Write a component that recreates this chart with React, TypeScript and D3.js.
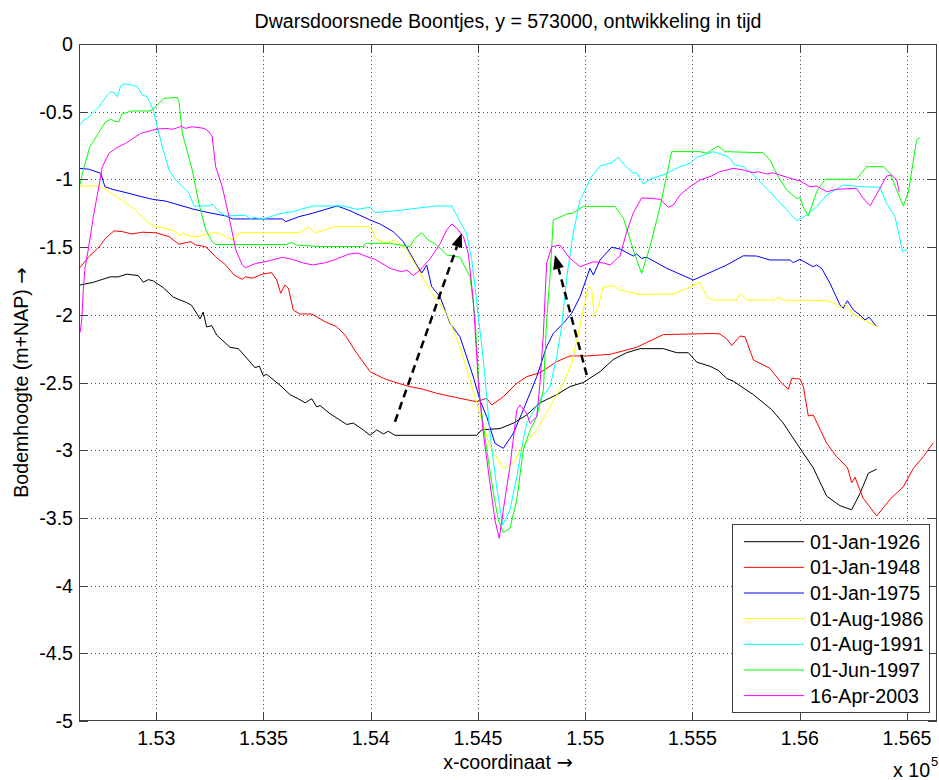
import React from 'react';
import * as d3 from 'd3';

const W = 939;
const H = 780;
const PL = 79, PR = 937, PT = 44, PB = 721;

const xDomain: [number, number] = [152640, 156640];
const yDomain: [number, number] = [-5, 0];

const xTicks = [153000, 153500, 154000, 154500, 155000, 155500, 156000, 156500];
const xTickLabels = ['1.53', '1.535', '1.54', '1.545', '1.55', '1.555', '1.56', '1.565'];
const yTicks = [0, -0.5, -1, -1.5, -2, -2.5, -3, -3.5, -4, -4.5, -5];
const yTickLabels = ['0', '-0.5', '-1', '-1.5', '-2', '-2.5', '-3', '-3.5', '-4', '-4.5', '-5'];

const seriesNames = ['01-Jan-1926', '01-Jan-1948', '01-Jan-1975', '01-Aug-1986', '01-Aug-1991', '01-Jun-1997', '16-Apr-2003'];
const seriesColors = ['#000000', '#ff0000', '#0000ff', '#ffff00', '#00ffff', '#00ff00', '#ff00ff'];

const s1926: [number, number][] = [
  [152645, -1.78], [152707, -1.76], [152785, -1.72], [152823, -1.72], [152862, -1.70], [152916, -1.71], [152940, -1.76], [152963, -1.74], [152987, -1.75], [153033, -1.80], [153080, -1.87], [153142, -1.91], [153165, -1.93], [153204, -2.03], [153219, -1.98], [153235, -2.09], [153259, -2.08], [153282, -2.15], [153344, -2.24], [153383, -2.25], [153422, -2.32], [153460, -2.39], [153481, -2.38], [153499, -2.45], [153515, -2.44], [153577, -2.52], [153624, -2.59], [153662, -2.62], [153694, -2.65], [153725, -2.62], [153748, -2.68], [153764, -2.67], [153810, -2.73], [153888, -2.81], [153919, -2.80], [153965, -2.85], [153997, -2.89], [154028, -2.85], [154059, -2.88], [154082, -2.86], [154113, -2.89], [154494, -2.89], [154517, -2.85], [154603, -2.84], [154665, -2.80], [154727, -2.74], [154789, -2.65], [154867, -2.59], [154929, -2.53], [154991, -2.50], [155069, -2.42], [155131, -2.33], [155193, -2.28], [155256, -2.25], [155364, -2.25], [155427, -2.28], [155481, -2.28], [155520, -2.35], [155582, -2.38], [155620, -2.41], [155660, -2.47], [155690, -2.49], [155784, -2.59], [155869, -2.70], [155923, -2.80], [155986, -2.95], [156063, -3.13], [156126, -3.34], [156188, -3.41], [156242, -3.44], [156281, -3.32], [156320, -3.17], [156359, -3.14],
];

const s1948: [number, number][] = [
  [152640, -1.66], [152687, -1.57], [152733, -1.50], [152764, -1.435], [152803, -1.38], [152842, -1.386], [152888, -1.403], [152935, -1.39], [152998, -1.394], [153060, -1.423], [153106, -1.479], [153161, -1.46], [153184, -1.484], [153231, -1.497], [153277, -1.571], [153324, -1.632], [153363, -1.706], [153401, -1.738], [153417, -1.719], [153448, -1.73], [153495, -1.699], [153538, -1.689], [153562, -1.743], [153580, -1.841], [153600, -1.78], [153616, -1.804], [153639, -1.965], [153670, -1.994], [153725, -1.994], [153787, -2.051], [153841, -2.088], [153880, -2.149], [153935, -2.284], [153997, -2.42], [154059, -2.469], [154105, -2.494], [154183, -2.531], [154245, -2.55], [154308, -2.58], [154416, -2.617], [154494, -2.642], [154541, -2.617], [154564, -2.666], [154618, -2.605], [154681, -2.506], [154727, -2.457], [154789, -2.428], [154867, -2.346], [154929, -2.304], [155007, -2.304], [155116, -2.292], [155240, -2.24], [155364, -2.146], [155597, -2.138], [155628, -2.142], [155660, -2.179], [155683, -2.227], [155722, -2.157], [155745, -2.162], [155784, -2.334], [155861, -2.395], [155916, -2.506], [155947, -2.55], [155963, -2.469], [156001, -2.474], [156017, -2.531], [156040, -2.747], [156063, -2.74], [156126, -2.949], [156172, -3.048], [156219, -3.122], [156226, -3.146], [156242, -3.24], [156258, -3.20], [156296, -3.355], [156359, -3.486], [156421, -3.363], [156483, -3.27], [156530, -3.134], [156576, -3.048], [156623, -2.945],
];

const s1975: [number, number][] = [
  [152640, -0.918], [152687, -0.925], [152741, -0.955], [152761, -1.054], [152795, -1.073], [152873, -1.103], [152920, -1.123], [152982, -1.147], [153044, -1.16], [153106, -1.189], [153176, -1.221], [153246, -1.246], [153324, -1.27], [153355, -1.292], [153588, -1.292], [153604, -1.312], [153666, -1.275], [153728, -1.25], [153790, -1.221], [153844, -1.196], [153903, -1.231], [153997, -1.30], [154043, -1.329], [154105, -1.386], [154152, -1.46], [154183, -1.544], [154214, -1.632], [154238, -1.691], [154261, -1.632], [154284, -1.792], [154323, -1.866], [154370, -2.063], [154416, -2.162], [154478, -2.457], [154509, -2.629], [154541, -2.753], [154579, -2.949], [154618, -2.986], [154665, -2.875], [154711, -2.703], [154774, -2.457], [154820, -2.236], [154851, -2.137], [154898, -2.063], [154937, -1.989], [154976, -1.866], [155022, -1.657], [155038, -1.706], [155069, -1.595], [155123, -1.501], [155162, -1.514], [155224, -1.566], [155240, -1.551], [155263, -1.583], [155287, -1.575], [155380, -1.657], [155504, -1.743], [155566, -1.699], [155660, -1.632], [155737, -1.564], [155799, -1.566], [155861, -1.595], [155955, -1.595], [155970, -1.615], [156001, -1.59], [156063, -1.645], [156079, -1.632], [156102, -1.657], [156141, -1.767], [156188, -1.928], [156203, -1.952], [156222, -1.896], [156250, -1.965], [156281, -2.001], [156304, -2.038], [156324, -2.018], [156359, -2.088],
];

const s1986: [number, number][] = [
  [152640, -1.049], [152733, -1.049], [152764, -1.073], [152826, -1.14], [152904, -1.226], [152966, -1.324], [152998, -1.349], [153044, -1.361], [153091, -1.386], [153106, -1.418], [153122, -1.398], [153153, -1.418], [153199, -1.423], [153254, -1.394], [153293, -1.398], [153339, -1.435], [153363, -1.448], [153386, -1.394], [153666, -1.394], [153712, -1.354], [153728, -1.374], [153743, -1.394], [153837, -1.348], [153992, -1.348], [154007, -1.374], [154023, -1.442], [154074, -1.468], [154113, -1.448], [154168, -1.521], [154214, -1.645], [154276, -1.817], [154354, -1.989], [154416, -2.236], [154463, -2.482], [154509, -2.727], [154556, -2.974], [154618, -3.134], [154665, -3.097], [154711, -2.962], [154774, -2.851], [154836, -2.679], [154898, -2.506], [154937, -2.358], [154968, -2.137], [154991, -1.965], [155014, -1.797], [155030, -1.804], [155041, -2.009], [155061, -1.94], [155082, -1.797], [155131, -1.785], [155162, -1.817], [155256, -1.849], [155411, -1.846], [155473, -1.804], [155535, -1.761], [155566, -1.866], [155597, -1.891], [155706, -1.891], [155722, -1.841], [155753, -1.891], [155885, -1.891], [155900, -1.871], [155923, -1.891], [156126, -1.896], [156172, -1.92], [156188, -1.952], [156211, -1.92], [156242, -1.985], [156296, -2.038], [156359, -2.088],
];

const s1991: [number, number][] = [
  [152640, -0.606], [152663, -0.561], [152679, -0.549], [152733, -0.463], [152772, -0.377], [152788, -0.352], [152803, -0.36], [152819, -0.389], [152834, -0.31], [152850, -0.295], [152888, -0.303], [152912, -0.315], [152935, -0.377], [152958, -0.389], [152986, -0.487], [153028, -0.758], [153060, -0.931], [153091, -1.004], [153153, -1.103], [153176, -1.196], [153246, -1.196], [153261, -1.182], [153293, -1.239], [153324, -1.27], [153417, -1.265], [153440, -1.292], [153456, -1.278], [153479, -1.29], [153510, -1.287], [153577, -1.252], [153634, -1.239], [153731, -1.196], [153871, -1.196], [153935, -1.221], [153997, -1.206], [154020, -1.246], [154121, -1.231], [154214, -1.213], [154308, -1.196], [154378, -1.196], [154416, -1.312], [154447, -1.398], [154471, -1.595], [154486, -1.792], [154502, -2.014], [154525, -2.334], [154556, -2.875], [154587, -3.27], [154615, -3.553], [154649, -3.442], [154681, -3.196], [154711, -2.925], [154727, -2.801], [154789, -2.629], [154836, -2.531], [154867, -2.309], [154890, -2.088], [154914, -1.719], [154944, -1.398], [154976, -1.152], [154999, -1.078], [155030, -0.98], [155069, -0.901], [155123, -0.877], [155154, -0.837], [155178, -0.886], [155224, -0.955], [155240, -0.95], [155271, -1.034], [155302, -0.997], [155364, -0.967], [155442, -0.906], [155488, -0.881], [155520, -0.837], [155597, -0.795], [155667, -0.832], [155698, -0.894], [155737, -0.906], [155784, -0.967], [155861, -1.091], [155986, -1.305], [156033, -1.263], [156079, -1.202], [156126, -1.115], [156203, -1.041], [156281, -1.054], [156374, -1.058], [156405, -1.177], [156444, -1.275], [156480, -1.534], [156499, -1.516],
];

const s1997: [number, number][] = [
  [152640, -1.064], [152660, -0.931], [152691, -0.758], [152730, -0.66], [152764, -0.574], [152788, -0.556], [152811, -0.572], [152826, -0.574], [152842, -0.512], [152858, -0.51], [152881, -0.495], [152966, -0.495], [152982, -0.487], [153036, -0.401], [153098, -0.394], [153106, -0.426], [153122, -0.66], [153168, -0.931], [153199, -1.177], [153231, -1.374], [153261, -1.46], [153277, -1.481], [153604, -1.481], [153632, -1.466], [153655, -1.485], [153759, -1.496], [153961, -1.496], [153981, -1.472], [154090, -1.472], [154183, -1.497], [154206, -1.435], [154238, -1.394], [154268, -1.448], [154308, -1.485], [154354, -1.558], [154416, -1.575], [154463, -1.719], [154486, -2.014], [154509, -2.629], [154541, -2.999], [154572, -3.318], [154595, -3.516], [154618, -3.609], [154649, -3.577], [154681, -3.368], [154711, -2.999], [154743, -2.851], [154774, -2.753], [154805, -2.555], [154820, -2.038], [154836, -1.719], [154851, -1.30], [154914, -1.256], [154944, -1.248], [154991, -1.199], [155139, -1.199], [155178, -1.287], [155224, -1.521], [155263, -1.694], [155302, -1.497], [155349, -1.202], [155403, -0.795], [155535, -0.795], [155566, -0.807], [155620, -0.753], [155652, -0.795], [155830, -0.803], [155861, -0.857], [155900, -0.98], [155939, -1.078], [155986, -1.14], [156001, -1.135], [156017, -1.206], [156040, -1.27], [156079, -1.091], [156118, -0.999], [156265, -0.999], [156312, -0.906], [156390, -0.906], [156421, -0.955], [156452, -1.078], [156483, -1.196], [156507, -1.091], [156545, -0.709], [156561, -0.691],
];

const s2003: [number, number][] = [
  [152645, -2.132], [152653, -2.038], [152660, -1.817], [152668, -1.654], [152683, -1.521], [152707, -1.275], [152738, -1.004], [152749, -0.906], [152780, -0.807], [152811, -0.77], [152858, -0.733], [152904, -0.685], [152928, -0.66], [152966, -0.643], [152998, -0.63], [153044, -0.623], [153075, -0.63], [153106, -0.615], [153114, -0.606], [153137, -0.623], [153168, -0.611], [153223, -0.623], [153246, -0.648], [153261, -0.685], [153277, -0.906], [153308, -1.054], [153339, -1.275], [153371, -1.521], [153401, -1.632], [153417, -1.652], [153464, -1.62], [153510, -1.608], [153588, -1.575], [153634, -1.59], [153681, -1.615], [153728, -1.632], [153790, -1.615], [153837, -1.59], [153899, -1.551], [153942, -1.544], [153989, -1.575], [154020, -1.59], [154090, -1.657], [154144, -1.682], [154168, -1.669], [154199, -1.71], [154230, -1.669], [154276, -1.588], [154323, -1.477], [154354, -1.374], [154378, -1.329], [154401, -1.361], [154432, -1.423], [154455, -1.546], [154478, -1.891], [154502, -2.506], [154525, -2.875], [154556, -3.244], [154579, -3.516], [154599, -3.651], [154618, -3.442], [154649, -3.122], [154681, -2.703], [154696, -2.666], [154727, -2.727], [154743, -2.801], [154774, -2.753], [154789, -2.506], [154805, -2.137], [154820, -1.62], [154844, -1.497], [154882, -1.485], [154929, -1.583], [154976, -1.645], [155038, -1.608], [155084, -1.617], [155116, -1.632], [155162, -1.566], [155193, -1.389], [155224, -1.248], [155263, -1.137], [155302, -1.14], [155349, -1.147], [155387, -1.206], [155411, -1.189], [155442, -1.115], [155488, -1.054], [155535, -1.004], [155582, -0.98], [155628, -0.943], [155690, -0.918], [155737, -0.931], [155784, -0.951], [155807, -0.943], [155846, -0.96], [155877, -0.951], [155908, -0.968], [155970, -0.999], [156001, -1.01], [156048, -1.054], [156079, -1.049], [156126, -1.091], [156172, -1.073], [156265, -1.066], [156296, -1.14], [156328, -1.196], [156374, -1.066], [156405, -0.975], [156429, -0.968], [156452, -1.004], [156464, -1.091],
];

const seriesData = [s1926, s1948, s1975, s1986, s1991, s1997, s2003];

const arrowStarts: [number, number][] = [[154113, -2.79], [155007, -2.445]];
const arrowTips: [number, number][] = [[154424, -1.398], [154859, -1.558]];

const FONT = "'Liberation Sans', Arial, Helvetica, sans-serif";
const ARROWFONT = "'DejaVu Sans', sans-serif";
const AXC = '#404040';

export default function App() {
  const x = d3.scaleLinear().domain(xDomain).range([PL, PR]);
  const y = d3.scaleLinear().domain(yDomain).range([PB, PT]);
  const line = d3.line<[number, number]>().x(d => x(d[0])).y(d => y(d[1]));
  const fs = 19.6;
  const tickLen = 9;

  const legX = 732.5, legY = 524.5, legW = 197, legH = 188;
  const legRow0 = 541.7, legStep = 25.65;

  return (
    <svg width={W} height={H} style={{ position: 'absolute', left: 0, top: 0, background: '#fff' }} fontFamily={FONT}>
      <rect x={0} y={0} width={W} height={H} fill="#ffffff" />
      <rect x={PL} y={PT} width={PR - PL} height={PB - PT} fill="#ffffff" />
      {/* grid */}
      <g stroke="#555" strokeWidth={1} strokeDasharray="1,3" shapeRendering="crispEdges">
        {xTicks.map((t, i) => (
          <line key={'gx' + i} x1={Math.round(x(t)) + 0.5} x2={Math.round(x(t)) + 0.5} y1={PT} y2={PB} />
        ))}
        {yTicks.filter(t => t !== 0 && t !== -5).map((t, i) => (
          <line key={'gy' + i} x1={PL} x2={PR} y1={Math.round(y(t)) + 0.5} y2={Math.round(y(t)) + 0.5} />
        ))}
      </g>
      {/* series */}
      <g fill="none" strokeWidth={1}>
        {seriesData.map((s, i) => (
          <path key={'s' + i} d={line(s) || ''} stroke={seriesColors[i]} />
        ))}
      </g>
      {/* arrows */}
      {arrowStarts.map((s, i) => {
        const sx = x(s[0]), sy = y(s[1]);
        const tx = x(arrowTips[i][0]), ty = y(arrowTips[i][1]);
        const dx = tx - sx, dy = ty - sy;
        const len = Math.sqrt(dx * dx + dy * dy);
        const ux = dx / len, uy = dy / len;
        const L = 14, hw = 5.5;
        const bx = tx - ux * L, by = ty - uy * L;
        const nx = -uy, ny = ux;
        const pts = `${tx},${ty} ${bx + nx * hw},${by + ny * hw} ${bx - nx * hw},${by - ny * hw}`;
        return (
          <g key={'a' + i}>
            <line x1={sx} y1={sy} x2={bx} y2={by} stroke="#000" strokeWidth={2.5} strokeDasharray="8,5" />
            <polygon points={pts} fill="#000" />
          </g>
        );
      })}
      {/* axes box */}
      <rect x={PL + 0.5} y={PT + 0.5} width={PR - PL - 1} height={PB - PT - 1} fill="none" stroke={AXC} strokeWidth={1} shapeRendering="crispEdges" />
      {/* ticks */}
      <g stroke={AXC} strokeWidth={1} shapeRendering="crispEdges">
        {xTicks.map((t, i) => {
          const px = Math.round(x(t)) + 0.5;
          return (
            <g key={'tx' + i}>
              <line x1={px} x2={px} y1={PB} y2={PB - tickLen} />
              <line x1={px} x2={px} y1={PT} y2={PT + tickLen} />
            </g>
          );
        })}
        {yTicks.map((t, i) => {
          const py = Math.round(y(t)) + 0.5;
          return (
            <g key={'ty' + i}>
              <line x1={PL} x2={PL + tickLen} y1={py} y2={py} />
              <line x1={PR} x2={PR - tickLen} y1={py} y2={py} />
            </g>
          );
        })}
      </g>
      {/* tick labels */}
      <g fontSize={fs} fill="#000">
        {xTicks.map((t, i) => (
          <text key={'lx' + i} x={x(t)} y={745} textAnchor="middle">{xTickLabels[i]}</text>
        ))}
        {yTicks.map((t, i) => (
          <text key={'ly' + i} x={73} y={y(t) + 7} textAnchor="end">{yTickLabels[i]}</text>
        ))}
      </g>
      {/* title and labels */}
      <text x={(PL + PR) / 2} y={28} textAnchor="middle" fontSize={fs}>Dwarsdoorsnede Boontjes, y = 573000, ontwikkeling in tijd</text>
      <text x={(PL + PR) / 2} y={769} textAnchor="middle" fontSize={fs}>x-coordinaat <tspan fontFamily={ARROWFONT}>→</tspan></text>
      <text x={893} y={777} fontSize={fs}>x 10</text>
      <text x={931} y={766} fontSize={13}>5</text>
      <text transform={`translate(28, ${(PT + PB) / 2}) rotate(-90)`} textAnchor="middle" fontSize={fs}>Bodemhoogte (m+NAP) <tspan fontFamily={ARROWFONT}>→</tspan></text>
      {/* legend */}
      <rect x={legX} y={legY} width={legW} height={legH} fill="#fff" stroke={AXC} strokeWidth={1} shapeRendering="crispEdges" />
      {seriesNames.map((n, i) => {
        const ry = legRow0 + i * legStep;
        return (
          <g key={'lg' + i}>
            <line x1={744} x2={804} y1={ry} y2={ry} stroke={seriesColors[i]} strokeWidth={1} />
            <text x={810} y={ry + 7} fontSize={fs}>{n}</text>
          </g>
        );
      })}
    </svg>
  );
}
